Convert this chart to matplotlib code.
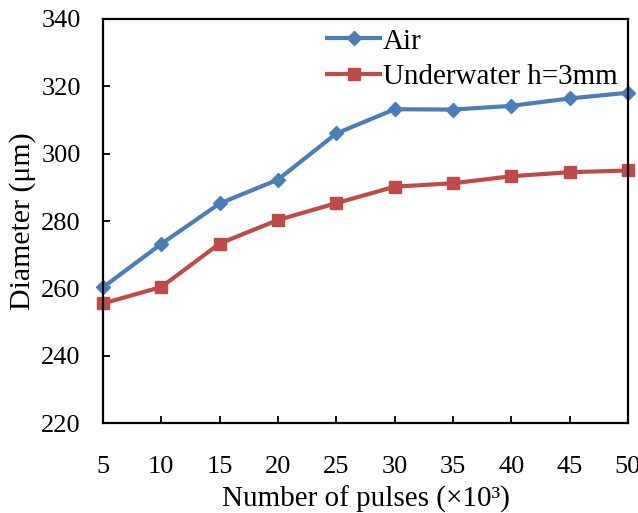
import matplotlib
matplotlib.use("Agg")
import matplotlib.pyplot as plt

pulses = [5, 10, 15, 20, 25, 30, 35, 40, 45, 50]
air = [260.3, 273.2, 285.2, 292.3, 306.0, 313.2, 313.1, 314.2, 316.4, 318.1]
underwater = [255.5, 260.4, 273.3, 280.3, 285.3, 290.2, 291.2, 293.3, 294.5, 295.0]
yticks = [220, 240, 260, 280, 300, 320, 340]

plt.rcParams['font.family'] = ['Liberation Serif', 'DejaVu Serif']
fig = plt.figure(figsize=(6.38, 5.13), dpi=100)
ax = fig.add_axes([103/638, 1-423/513, 525/638, 404/513])

ax.plot(pulses, air, color='#4a7ebb', lw=3.0, marker='D', ms=7, label='Air', clip_on=False)
ax.plot(pulses, underwater, color='#be4b48', lw=3.0, marker='s', ms=8, label='Underwater h=3mm', clip_on=False)

ax.set_xlim(5, 50)
ax.set_ylim(220, 340)
ax.set_xticks(pulses)
ax.set_yticks(yticks)
ax.tick_params(direction='in', labelsize=19, width=1.3, length=5)
ax.tick_params(axis='x', pad=24)
ax.tick_params(axis='y', pad=16)
for s in ax.spines.values():
    s.set_linewidth(1.6)
ax.set_xlabel('Number of pulses (×10³)', fontsize=21, labelpad=5)
ax.set_ylabel('Diameter (μm)', fontsize=21.5, labelpad=4)
ax.legend(loc='upper left', bbox_to_anchor=(0.405, 1.006), frameon=False, fontsize=21,
          handlelength=1.8, handletextpad=0.1, labelspacing=0.3, borderaxespad=0.0)
fig.savefig('out.png', dpi=100)
